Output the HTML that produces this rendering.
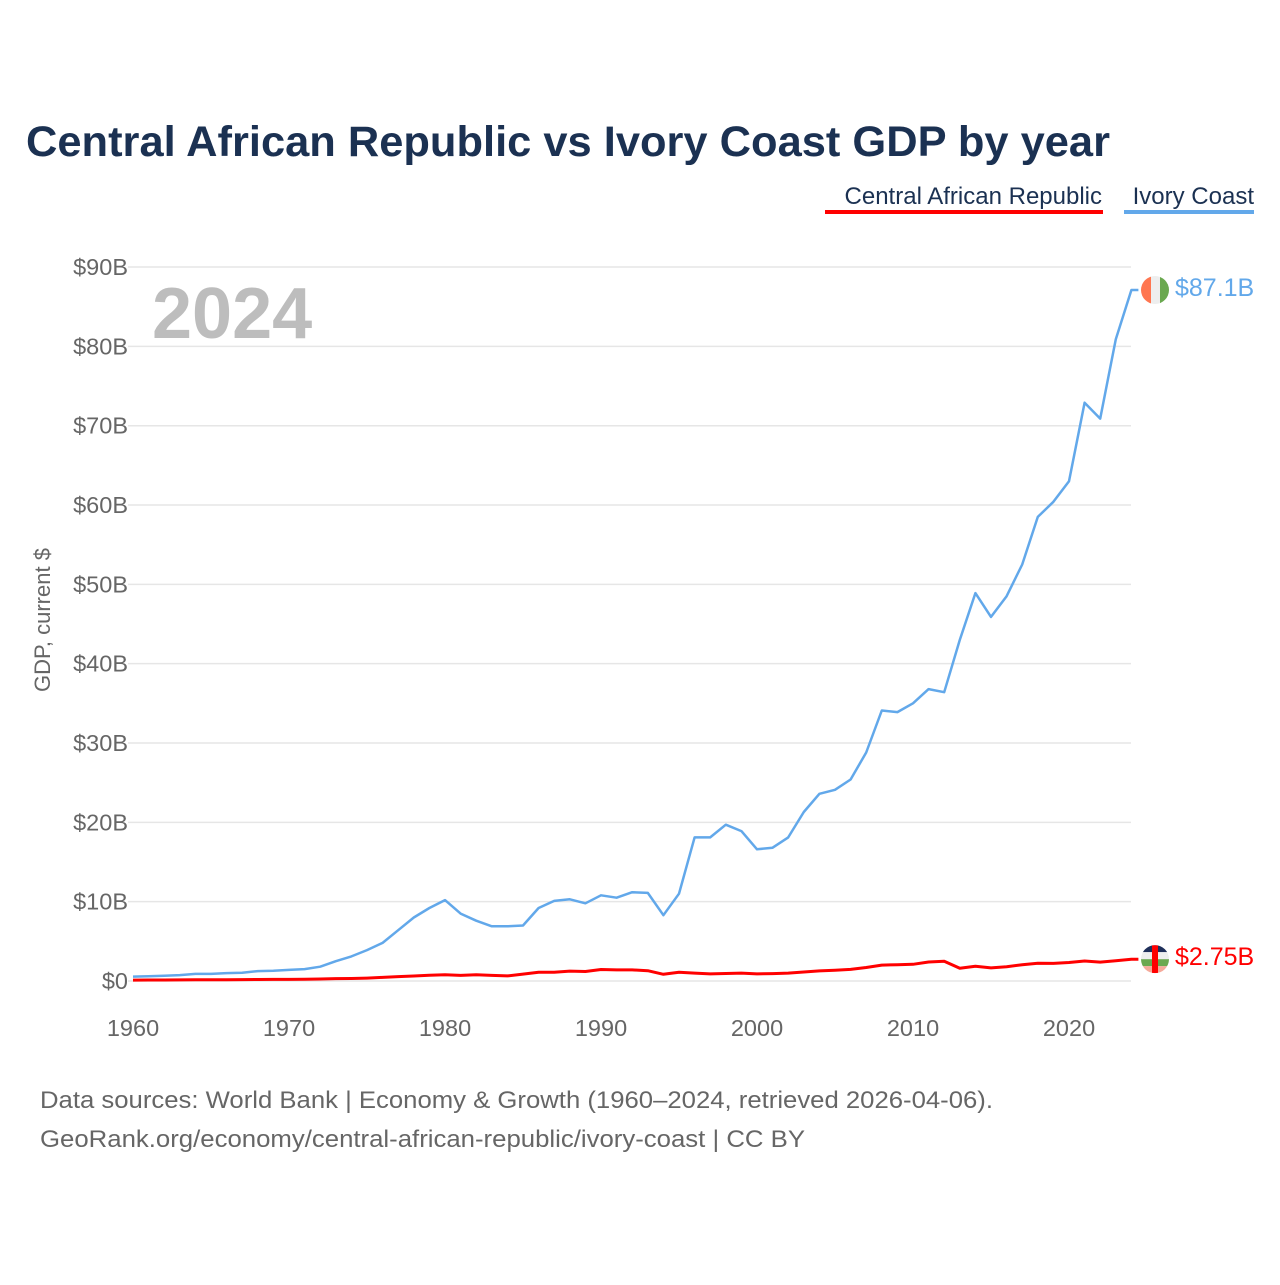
<!DOCTYPE html>
<html><head><meta charset="utf-8"><style>
body{margin:0;background:#fff;}
svg text{font-family:"Liberation Sans",sans-serif;}
</style></head><body>
<svg id="chart" width="1280" height="1280" xmlns="http://www.w3.org/2000/svg">
<text x="26" y="156" font-size="43" font-weight="bold" fill="#1b3152" textLength="1084" lengthAdjust="spacingAndGlyphs">Central African Republic vs Ivory Coast GDP by year</text>
<g>
<text x="1102" y="204" font-size="24" fill="#1b3152" text-anchor="end">Central African Republic</text>
<rect x="825" y="210" width="278" height="4" fill="#ff0000"/>
<text x="1254" y="204" font-size="24" fill="#1b3152" text-anchor="end">Ivory Coast</text>
<rect x="1124" y="210" width="130" height="4" fill="#62a8ea"/>
</g>
<text x="152" y="338" font-size="72" font-weight="bold" fill="#bdbdbd">2024</text>
<text transform="translate(50,620) rotate(-90)" font-size="22" fill="#666" text-anchor="middle">GDP, current $</text>
<g id="grid"></g><g id="yt"></g><g id="xt"></g><g id="lines"></g><g id="ends"></g>
<text x="40" y="1108" font-size="24" fill="#666" textLength="953" lengthAdjust="spacingAndGlyphs">Data sources: World Bank | Economy &amp; Growth (1960–2024, retrieved 2026-04-06).</text>
<text x="40" y="1147" font-size="24" fill="#666" textLength="765" lengthAdjust="spacingAndGlyphs">GeoRank.org/economy/central-african-republic/ivory-coast | CC BY</text>
</svg>
<script>
const years=[];for(let y=1960;y<=2024;y++)years.push(y);
const ivoryCoast=[0.55,0.6,0.65,0.75,0.9,0.9,1.0,1.05,1.25,1.3,1.4,1.5,1.8,2.5,3.1,3.9,4.8,6.4,8.0,9.2,10.2,8.5,7.6,6.9,6.9,7.0,9.2,10.1,10.3,9.8,10.8,10.5,11.2,11.1,8.3,11.0,18.1,18.1,19.7,18.9,16.6,16.8,18.1,21.3,23.6,24.1,25.4,28.8,34.1,33.9,35.0,36.8,36.4,43.0,48.9,45.9,48.5,52.5,58.5,60.4,63.0,72.9,70.9,80.9,87.1];
const car=[0.11,0.12,0.13,0.14,0.15,0.16,0.17,0.18,0.19,0.2,0.2,0.22,0.25,0.3,0.32,0.36,0.46,0.55,0.63,0.72,0.8,0.7,0.8,0.7,0.64,0.87,1.1,1.1,1.25,1.2,1.45,1.4,1.4,1.3,0.85,1.1,1.0,0.9,0.95,1.0,0.9,0.93,1.0,1.14,1.27,1.35,1.46,1.7,2.0,2.05,2.1,2.4,2.5,1.6,1.85,1.65,1.8,2.05,2.25,2.22,2.33,2.52,2.38,2.55,2.75];
const yTicks=[0,10,20,30,40,50,60,70,80,90];
const xTicks=[1960,1970,1980,1990,2000,2010,2020];
const NS='http://www.w3.org/2000/svg';
const X=y=>133+(y-1960)*15.6, Y=v=>981-v*7.933;
function mk(tag,attrs,parent,txt){const e=document.createElementNS(NS,tag);for(const k in attrs)e.setAttribute(k,attrs[k]);if(txt!==undefined)e.textContent=txt;document.getElementById(parent).appendChild(e);return e;}
yTicks.forEach(v=>{
 const l=mk('line',{x1:128,x2:1131,y1:Y(v),y2:Y(v),stroke:'#e6e6e6','stroke-width':1.5},'grid');
 
 
 const t=mk('text',{x:128,y:Y(v)+8,'font-size':23.5,fill:'#666','text-anchor':'end'},'yt',v===0?'$0':'$'+v+'B');
 
 
});
xTicks.forEach(y=>{
 const t=mk('text',{x:X(y),y:1036,'font-size':23.5,fill:'#666','text-anchor':'middle'},'xt',String(y));
 
 
});
function line(d,c,w,name){
 let p=d.map((v,i)=>(i?'L':'M')+X(years[i]).toFixed(1)+','+Y(v).toFixed(1)).join('');
 p+='L'+(X(2024)+7)+','+Y(d[d.length-1]).toFixed(1);
 const e=mk('path',{d:p,fill:'none',stroke:c,'stroke-width':w,'stroke-linejoin':'round'},'lines');
 
 
}
line(ivoryCoast,'#62a8ea',2.5,'ivory-coast-line');
line(car,'#ff0000',3,'car-line');
const ic=Y(ivoryCoast[ivoryCoast.length-1]), cr=Y(car[car.length-1]);
const g1=mk('g',{},'ends');


g1.innerHTML=`<clipPath id="c1"><circle cx="1155" cy="${ic}" r="14"/></clipPath><g clip-path="url(#c1)"><rect x="1141" y="${ic-14}" width="10" height="28" fill="#ff7650"/><rect x="1151" y="${ic-14}" width="9" height="28" fill="#eee"/><rect x="1160" y="${ic-14}" width="10" height="28" fill="#6aa84f"/></g>`;
const t1=mk('text',{x:1175,y:ic+6,'font-size':25,fill:'#62a8ea'},'ends','$87.1B');


const g2=mk('g',{},'ends');


g2.innerHTML=`<clipPath id="c2"><circle cx="1155" cy="${cr}" r="14"/></clipPath><g clip-path="url(#c2)"><rect x="1141" y="${cr-14}" width="28" height="7" fill="#1f2f5a"/><rect x="1141" y="${cr-7}" width="28" height="7" fill="#eee"/><rect x="1141" y="${cr}" width="28" height="7" fill="#6aa84f"/><rect x="1141" y="${cr+7}" width="28" height="7" fill="#f5a99a"/><rect x="1152" y="${cr-14}" width="6" height="28" fill="#ff0000"/></g>`;
const t2=mk('text',{x:1175,y:cr+6,'font-size':25,fill:'#ff0000'},'ends','$2.75B');


</script>
</body></html>
